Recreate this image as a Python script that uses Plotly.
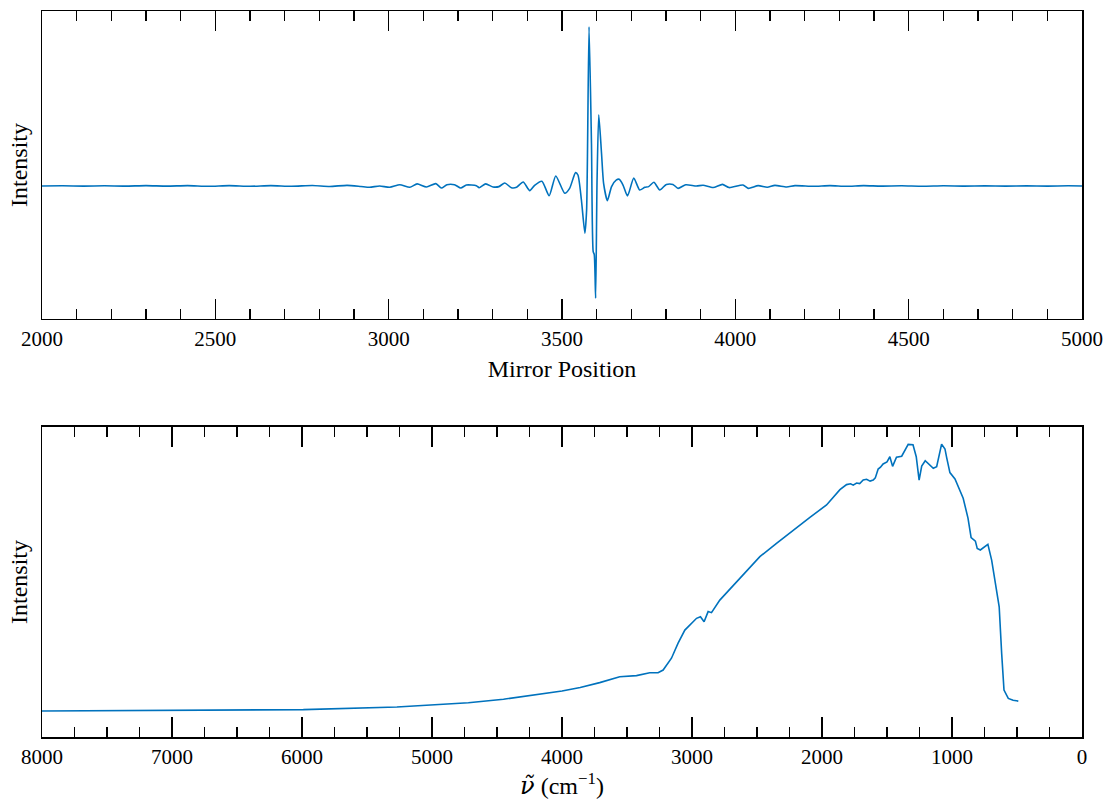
import plotly.graph_objects as go

# ---- Interferogram (top panel) ----
mirror_position = [
    2000, 2060, 2120, 2180, 2240, 2300, 2360, 2420, 2480, 2540, 2600, 2660, 2720, 2780, 2830, 2880, 2920,
    2945, 2974, 3003, 3032, 3061, 3082, 3109, 3136, 3152, 3168, 3190, 3208, 3224, 3253, 3261, 3280, 3301,
    3318, 3335, 3354, 3369, 3388, 3407, 3421, 3442, 3463, 3482, 3508, 3522, 3539, 3546, 3556, 3566, 3571,
    3578, 3585, 3590, 3593, 3597, 3601, 3606, 3614, 3620, 3631, 3643, 3657, 3665, 3676, 3689, 3707, 3724,
    3739, 3750, 3765, 3782, 3801, 3820, 3835, 3857, 3888,
    3907, 3936, 3963, 3982, 4022, 4037, 4066, 4092, 4114, 4148, 4172, 4225, 4273, 4320, 4370, 4420, 4480,
    4540, 4600, 4660, 4720, 4780, 4840, 4900, 4960, 5000,
]
interferogram = [
    0, 0.001, -0.001, 0.001, -0.001, 0.002, -0.001, 0.002, -0.002, 0.002, -0.002, 0.002, -0.002, 0.003, -0.003, 0.004, -0.003,
    -0.008, 0.0, -0.008, 0.008, -0.008, 0.013, -0.006, 0.015, -0.013, 0.008, 0.008, -0.013, 0.006, 0.002, -0.011, 0.013, -0.006,
    -0.004, 0.019, -0.011, -0.008, 0.025, -0.029, 0.004, 0.03, -0.061, 0.063, -0.046, -0.015, 0.084, 0.069, -0.088, -0.297, -0.151,
    1.0, 0.268, -0.413, -0.43, -0.706, 0.017, 0.447, 0.206, 0.017, -0.092, -0.004, 0.038, 0.042, 0.006, -0.063, 0.05, -0.025,
    -0.008, -0.004, 0.023, -0.025, 0.01, 0.01, -0.015, 0.008, 0.0,
    0.005, -0.01, 0.01, -0.01, 0.006, -0.015, 0.002, -0.008, 0.004, -0.006, 0.002, -0.002, 0.002, -0.002, 0.002, -0.001, 0.001,
    -0.002, 0.001, -0.001, 0.001, -0.001, 0.001, -0.001, 0.001, 0,
]

# ---- Spectrum (bottom panel) ----
wavenumber = [
    8000, 7400, 6790, 5990, 5270, 4720, 4450, 4170, 4000, 3860, 3710, 3556, 3427, 3325, 3261, 3222, 3158, 3107, 3055, 2965,
    2935, 2907, 2876, 2850, 2786, 2632, 2478, 2350, 2222, 2093, 1965, 1862, 1811, 1780, 1760, 1734, 1710, 1683, 1657, 1630,
    1606, 1590, 1568, 1550, 1530, 1500, 1478, 1457, 1427, 1387, 1337, 1300, 1275, 1253, 1233, 1206, 1144, 1118, 1080, 1054,
    1041, 1016, 977, 914, 877, 853, 820, 806, 782, 724, 695, 670, 657, 637, 618, 600, 567, 530, 490,
]
spectrum = [
    0.0, 0.001, 0.002, 0.005, 0.015, 0.031, 0.044, 0.063, 0.075, 0.088, 0.106, 0.128, 0.132, 0.143, 0.143, 0.153, 0.197, 0.253, 0.302, 0.346,
    0.352, 0.333, 0.371, 0.367, 0.414, 0.495, 0.576, 0.626, 0.675, 0.723, 0.769, 0.826, 0.845, 0.848, 0.843, 0.851, 0.849, 0.862, 0.865, 0.858,
    0.862, 0.87, 0.903, 0.91, 0.922, 0.93, 0.949, 0.913, 0.947, 0.951, 0.995, 0.994, 0.949, 0.862, 0.914, 0.934, 0.906, 0.912, 0.996, 0.978,
    0.946, 0.89, 0.866, 0.794, 0.72, 0.647, 0.634, 0.607, 0.601, 0.622, 0.563, 0.489, 0.464, 0.389, 0.215, 0.078, 0.047, 0.04, 0.037,
]

LINE_COLOR = "#0072BD"
FONT = "Liberation Serif"
TITLE_SIZE = 24

fig = go.Figure()
fig.add_trace(go.Scatter(x=mirror_position, y=interferogram, mode="lines",
                         line=dict(color=LINE_COLOR, width=1.6, shape="spline", smoothing=0.6),
                         xaxis="x", yaxis="y", showlegend=False, hoverinfo="skip"))
fig.add_trace(go.Scatter(x=wavenumber, y=spectrum, mode="lines",
                         line=dict(color=LINE_COLOR, width=1.6),
                         xaxis="x2", yaxis="y2", showlegend=False, hoverinfo="skip"))

axis_common = dict(showline=True, linecolor="black", linewidth=1.5, mirror=True,
                   showgrid=False, zeroline=False)
xcommon = dict(axis_common, mirror="ticks", ticks="inside", ticklen=20, tickwidth=1.5, tickcolor="black",
               tickfont=dict(family=FONT, size=21, color="black"), automargin=False)

nu_title = ('<span style="font-family:\'DejaVu Serif\'; font-style:italic">ν̃</span>'
            ' (cm<sup>−1</sup>)')

fig.update_layout(
    width=1107, height=800,
    margin=dict(l=42, r=25, t=11, b=63),
    paper_bgcolor="white", plot_bgcolor="white",
    font=dict(family=FONT, size=21, color="black"),
    xaxis=dict(xcommon, domain=[0, 1], anchor="y", range=[2000, 5000], dtick=500, tick0=2000,
               minor=dict(ticks="inside", ticklen=10, tickwidth=1.5, tickcolor="black", dtick=100),
               title=dict(text="Mirror Position", font=dict(family=FONT, size=TITLE_SIZE), standoff=10)),
    yaxis=dict(axis_common, domain=[0.5758, 1], anchor="x", range=[-0.836, 1.10],
               showticklabels=False, ticks="", automargin=False,
               title=dict(text="Intensity", font=dict(family=FONT, size=TITLE_SIZE), standoff=6)),
    xaxis2=dict(xcommon, domain=[0, 1], anchor="y2", range=[8000, 0], dtick=1000, tick0=0,
                minor=dict(ticks="inside", ticklen=10, tickwidth=1.5, tickcolor="black", dtick=250),
                title=dict(text=nu_title, font=dict(family=FONT, size=TITLE_SIZE), standoff=8)),
    yaxis2=dict(axis_common, domain=[0, 0.427], anchor="x2", range=[-0.097, 1.06],
                showticklabels=False, ticks="", automargin=False,
                title=dict(text="Intensity", font=dict(family=FONT, size=TITLE_SIZE), standoff=6)),
)

fig.write_html("out.html", config={"displayModeBar": False, "staticPlot": True},
               post_script="document.body.style.margin='0';")
